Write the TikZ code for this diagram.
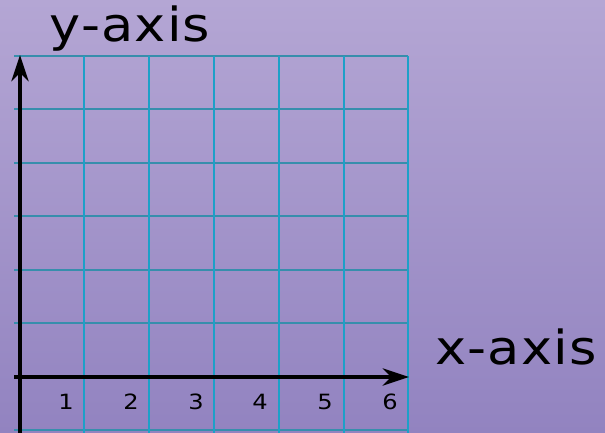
\documentclass[tikz,border=0pt]{standalone}
\usepackage{fontspec}
\setmainfont{DejaVu Sans}
\newfontfamily\axisfont[FakeStretch=1.12,LetterSpace=2.5]{DejaVu Sans}
\newfontfamily\tickfont[FakeStretch=1.15]{DejaVu Sans}
\usetikzlibrary{arrows.meta}
\definecolor{bgtop}{RGB}{180,166,212}
\definecolor{bgbottom}{RGB}{146,131,192}
\definecolor{gridv}{RGB}{29,160,200}
\definecolor{gridh}{RGB}{55,142,172}
\tikzset{
  axisline/.style={line width=4.5pt, -{Stealth[length=26pt,width=17pt,inset=8pt]}},
  axislabel/.style={anchor=base, inner sep=0pt, font=\axisfont\fontsize{47}{51}\selectfont},
  ticklabel/.style={anchor=base, inner sep=0pt, font=\tickfont\fontsize{21}{25}\selectfont}
}
\begin{document}
\begin{tikzpicture}[x=1pt, y=1pt]

  % --- background ---
  \shade[top color=bgtop, bottom color=bgbottom] (0, 0) rectangle (605, 433);
  \useasboundingbox (0, 0) rectangle (605, 433);

  % --- grid ---
  \foreach \gy in {3, 56, 110, 163, 217, 270, 324, 377}
    \draw[gridh, line width=1.8pt] (14, \gy) -- (408, \gy);
  \foreach \gx in {84, 149, 214, 279, 344, 408}
    \draw[gridv, line width=1.8pt] (\gx, 0) -- (\gx, 377);

  % --- axes ---
  \coordinate (xstart) at (14, 56);
  \coordinate (xend) at (409, 56);
  \coordinate (ystart) at (20, 0);
  \coordinate (yend) at (20, 378);
  \draw[axisline] (xstart) -- (xend);
  \draw[axisline] (ystart) -- (yend);

  % --- labels ---
  \node[axislabel] (ylabel) at (130, 391) {y-axis};
  \node[axislabel] (xlabel) at (516, 68) {x-axis};
  \foreach \n/\tx in {1/66, 2/131, 3/196, 4/260, 5/325, 6/390}
    \node[ticklabel] (tick\n) at (\tx, 23) {\n};

\end{tikzpicture}
\end{document}
